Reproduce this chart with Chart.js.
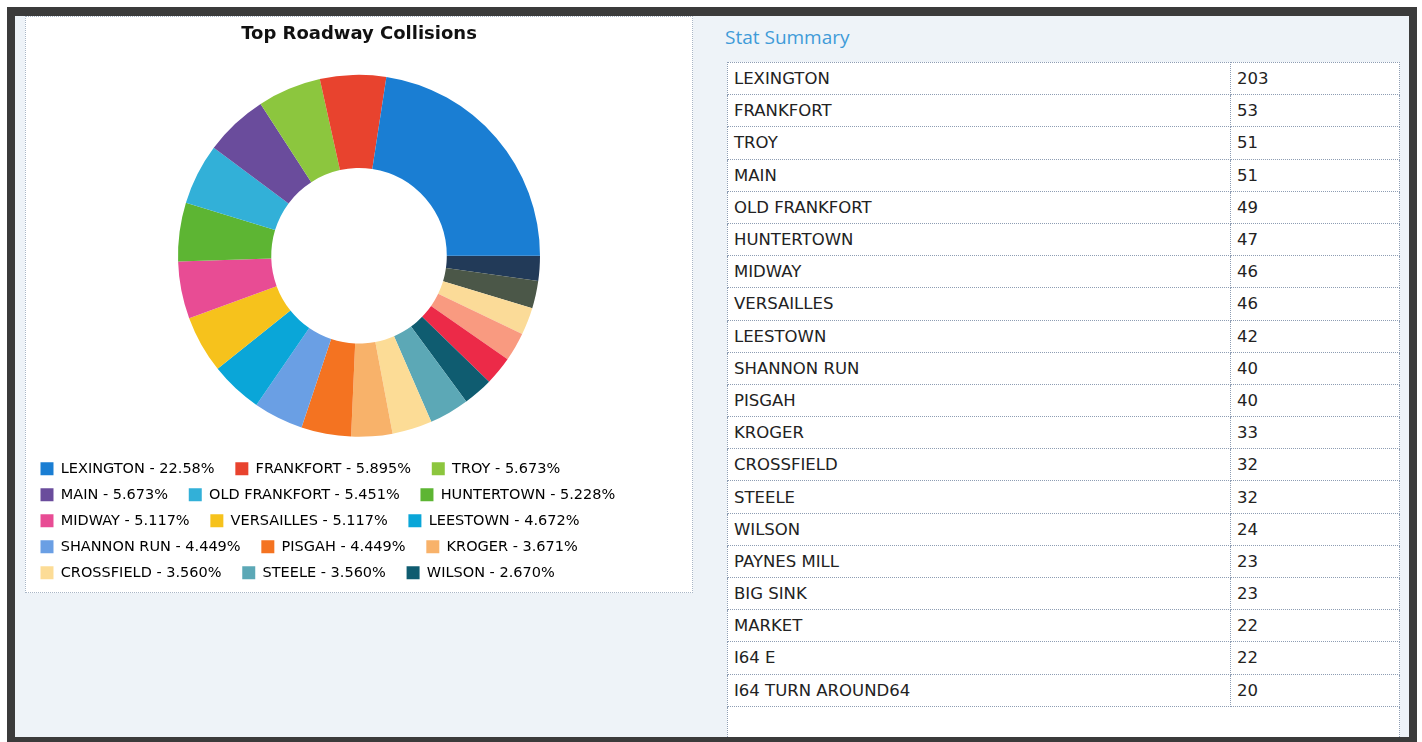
<!DOCTYPE html>
<html>
<head>
<meta charset="utf-8">
<script src="https://cdn.jsdelivr.net/npm/chart.js@4"></script>
<style>
  body { margin: 0; width: 1422px; height: 742px; background: #fff; overflow: hidden; position: relative; font-family: "DejaVu Sans", sans-serif; }
  #frame { position: absolute; left: 7px; top: 7px; width: 1394px; height: 721px; background: #eef3f8;
           border-style: solid; border-color: #3b3b3b; border-width: 9px 8px 6px 8px; }
  #chartBox { position: absolute; left: 25px; top: 16px; width: 666px; height: 575px; background: #fff; border: 1px dotted #a9b6c6; }
  #chartWrap { position: absolute; left: 0; top: 0; width: 666px; height: 575px; }
  #statTitle { position: absolute; left: 725px; top: 24px; font-family: "Open Sans", sans-serif; font-size: 19px; color: #3f9bd8; }
  #stats { position: absolute; left: 727px; top: 62px; width: 673px; border-collapse: collapse; background: #fff; }
  #stats td { border: 1px dotted #8e9db3; height: 31.2px; padding: 0 6px; font-size: 16.5px; color: #222; }
  #stats td.v { width: 156px; }
  #stats tr.empty td { height: 30px; border-bottom: none; }
</style>
</head>
<body>
<div id="frame"></div>
<div id="chartBox"><div id="chartWrap"><canvas id="collisionsChart"></canvas></div></div>
<div id="statTitle">Stat Summary</div>
<table id="stats"><tbody id="statsBody"></tbody></table>
<script>
  // Road names and collision counts
  const roads = ['LEXINGTON', 'FRANKFORT', 'TROY', 'MAIN', 'OLD FRANKFORT', 'HUNTERTOWN', 'MIDWAY',
    'VERSAILLES', 'LEESTOWN', 'SHANNON RUN', 'PISGAH', 'KROGER', 'CROSSFIELD', 'STEELE', 'WILSON',
    'PAYNES MILL', 'BIG SINK', 'MARKET', 'I64 E', 'I64 TURN AROUND64'];
  const collisions = [203, 53, 51, 51, 49, 47, 46, 46, 42, 40, 40, 33, 32, 32, 24, 23, 23, 22, 22, 20];
  const colors = ['#1a7ed3', '#e8432e', '#8cc63e', '#6a4c9c', '#32b0d8', '#5db533', '#e84c94',
    '#f6c21c', '#0aa6d8', '#6a9fe4', '#f47321', '#f8b26a', '#fcdc96', '#5ca8b6', '#0f5c70',
    '#ec2a48', '#f99a80', '#fbdb98', '#4b5748', '#223a58'];
  const legendCount = 15;

  const total = collisions.reduce((a, b) => a + b, 0);
  const pct = v => (v / total * 100).toPrecision(4) + '%';

  // stat table
  const body = document.getElementById('statsBody');
  roads.forEach((r, i) => {
    const tr = document.createElement('tr');
    tr.innerHTML = '<td>' + r + '</td><td class="v">' + collisions[i] + '</td>';
    body.appendChild(tr);
  });
  const emptyRow = document.createElement('tr');
  emptyRow.className = 'empty';
  emptyRow.innerHTML = '<td colspan="2"></td>';
  body.appendChild(emptyRow);

  // slices run counter-clockwise from 3 o'clock, so feed them reversed
  const n = roads.length;
  const revLabels = roads.slice().reverse();
  const revData = collisions.slice().reverse();
  const revColors = colors.slice().reverse();

  new Chart(document.getElementById('collisionsChart'), {
    type: 'doughnut',
    data: {
      labels: revLabels,
      datasets: [{
        data: revData,
        backgroundColor: revColors,
        borderWidth: 0
      }]
    },
    options: {
      responsive: true,
      maintainAspectRatio: false,
      animation: false,
      rotation: 90,
      cutout: '48.5%',
      radius: '93.2%',
      layout: { padding: { left: 3, right: 3, top: 0, bottom: 2 } },
      plugins: {
        title: {
          display: true,
          text: 'Top Roadway Collisions',
          color: '#111',
          font: { family: 'DejaVu Sans', size: 18, weight: 'bold' },
          padding: { top: 7, bottom: 16 }
        },
        tooltip: { enabled: false },
        legend: {
          position: 'bottom',
          align: 'start',
          labels: {
            font: { family: 'DejaVu Sans', size: 14.5 },
            color: '#222',
            boxWidth: 13,
            boxHeight: 13,
            padding: 11.5,
            generateLabels: () => roads.slice(0, legendCount).map((r, i) => ({
              text: r + ' - ' + pct(collisions[i]) + '  ',
              fillStyle: colors[i],
              strokeStyle: colors[i],
              lineWidth: 0,
              hidden: false,
              index: n - 1 - i
            }))
          }
        }
      }
    }
  });
</script>
</body>
</html>
